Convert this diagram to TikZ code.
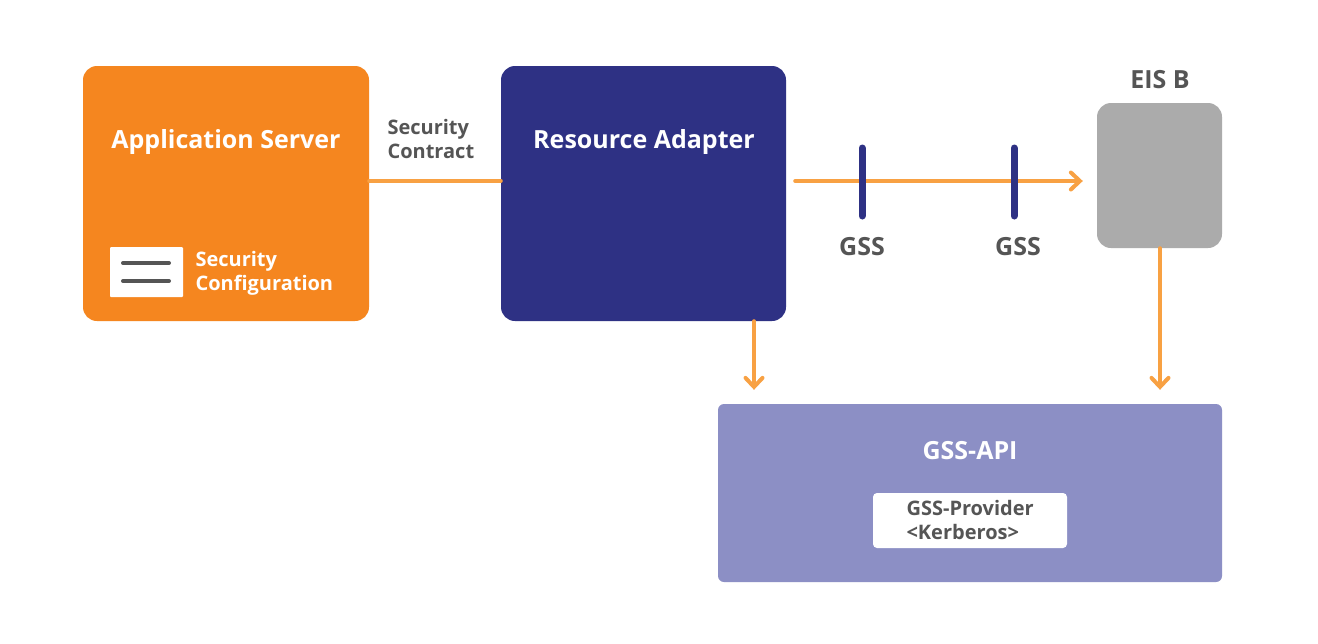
\documentclass[tikz,border=0pt]{standalone}
\usepackage{fontspec}
\setmainfont{Open Sans}
\usetikzlibrary{arrows.meta}
\definecolor{apporange}{HTML}{F5861F}
\definecolor{linkorange}{HTML}{F8A143}
\definecolor{adaptnavy}{HTML}{2E3184}
\definecolor{eisgray}{HTML}{ABABAB}
\definecolor{apiviolet}{HTML}{8C8FC5}
\definecolor{txtgray}{HTML}{555555}
\tikzset{
	box/.style={rectangle,rounded corners=14pt,draw=none,inner sep=0pt},
	title/.style={text=white,font=\bfseries\fontsize{25}{30}\selectfont},
	note/.style={text=txtgray,font=\bfseries\fontsize{20}{24}\selectfont,align=left},
	biglabel/.style={text=txtgray,font=\bfseries\fontsize{25}{30}\selectfont},
	link/.style={draw=linkorange,line width=4pt,line cap=round},
	tip/.style={-{Straight Barb[length=9pt,width=17pt,line width=4pt,line cap=round]}},
	bar/.style={draw=adaptnavy,line width=7pt,line cap=round}
}
\begin{document}
\begin{tikzpicture}[x=1pt,y=-1pt]
	\useasboundingbox[fill=white] (0,0) rectangle (1318,643);
	% boxes
	\node[box,fill=apporange,minimum width=286pt,minimum height=255pt] (app) at (226,193.5) {};
	\node[box,fill=adaptnavy,minimum width=285pt,minimum height=255pt] (adapter) at (643.5,193.5) {};
	\node[box,fill=eisgray,minimum width=125pt,minimum height=145pt] (eisb) at (1159.5,175.5) {};
	\node[box,rounded corners=6pt,fill=apiviolet,minimum width=504pt,minimum height=178pt] (gssapi) at (970,493) {};
	\node[box,rounded corners=4pt,fill=white,minimum width=194pt,minimum height=55pt] (provider) at (970,520.5) {};
	\node[box,rounded corners=1pt,fill=white,minimum width=73pt,minimum height=50pt] (cfgicon) at (146.5,272) {};
	% texts
	\node[title] (apptitle) at (226,142) {Application Server};
	\node[title] (adaptertitle) at (644,142) {Resource Adapter};
	\node[title] (apititle) at (970,451) {GSS-API};
	\node[biglabel] (eislabel) at (1160,80) {EIS B};
	\node[note,anchor=west] (contract) at (384,139) {Security\\Contract};
	\node[note,text=white,anchor=west] (cfglabel) at (192,273) {Security\\Configuration};
	\node[note,anchor=west] (providerlabel) at (903,520) {GSS-Provider\\<Kerberos>};
	% config icon lines
	\draw[line width=4pt,line cap=round,draw=txtgray] (123,263)--(169,263) (123,281)--(169,281);
	% connectors
	\coordinate (rail) at (0,181);
	\coordinate (leftdrop) at (754,0);
	\coordinate (rightdrop) at (1160,0);
	\draw[link] (app.east |- rail) -- (adapter.west |- rail);
	\draw[link,tip] ([xshift=9pt]adapter.east |- rail) -- ([xshift=-14pt]eisb.west |- rail);
	\draw[link,tip] (adapter.south -| leftdrop) -- ([yshift=14pt]gssapi.north -| leftdrop);
	\draw[link,tip] (eisb.south -| rightdrop) -- ([yshift=14pt]gssapi.north -| rightdrop);
	% gss tokens
	\draw[bar] (862,148)--(862,216);
	\draw[bar] (1014,148)--(1014,216);
	\node[biglabel] (gssone) at (862,247) {GSS};
	\node[biglabel] (gsstwo) at (1018,247) {GSS};
\end{tikzpicture}
\end{document}
